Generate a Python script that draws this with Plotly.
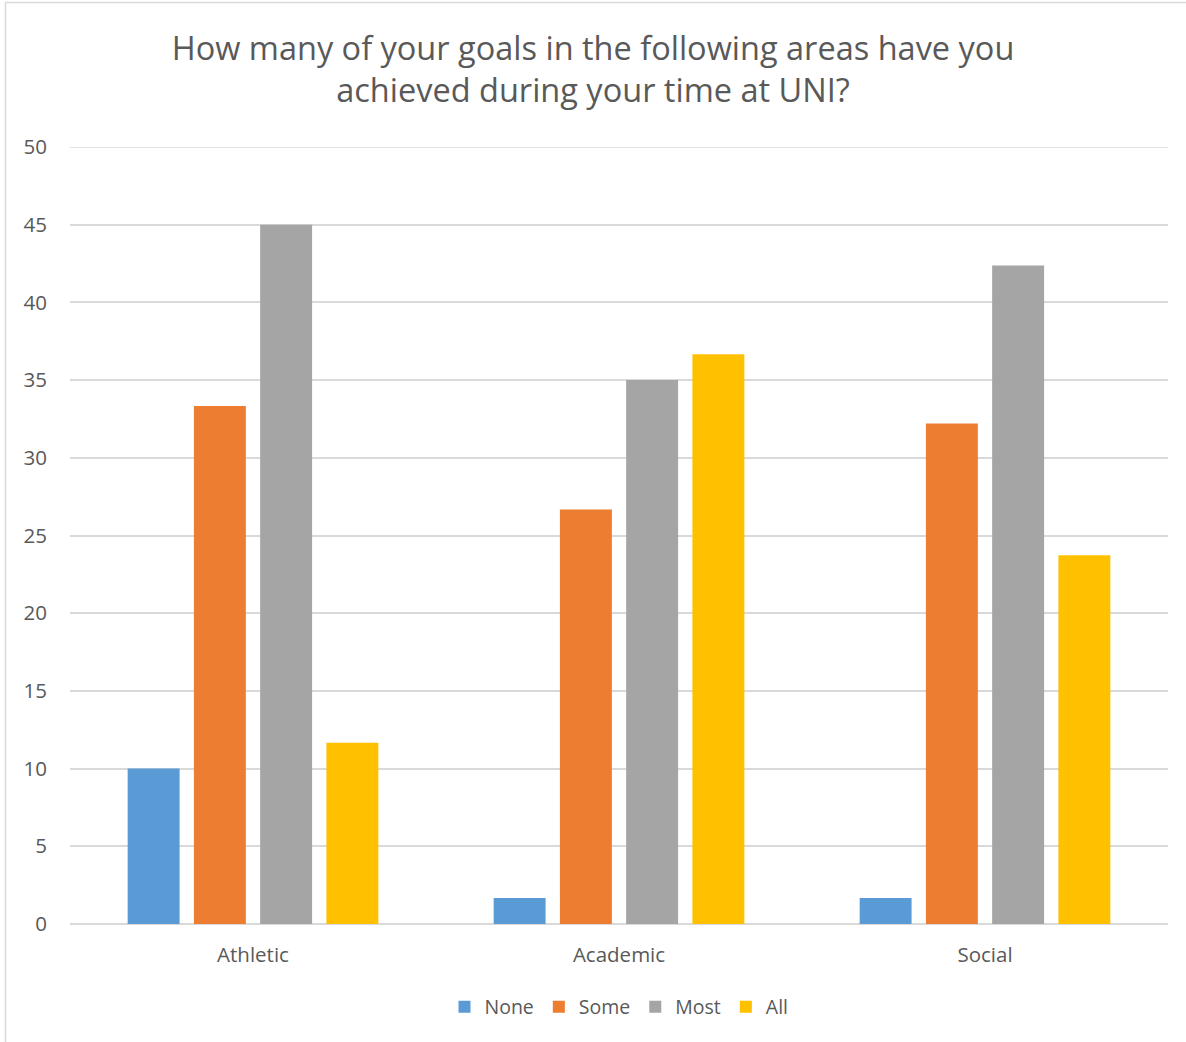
import plotly.graph_objects as go

categories = ["Athletic", "Academic", "Social"]
series_names = ["None", "Some", "Most", "All"]
none_vals = [10.0, 1.67, 1.67]
some_vals = [33.33, 26.67, 32.2]
most_vals = [45.0, 35.0, 42.37]
all_vals = [11.67, 36.67, 23.73]
colors = ["#5B9BD5", "#ED7D31", "#A5A5A5", "#FFC000"]
y_ticks = [0, 5, 10, 15, 20, 25, 30, 35, 40, 45, 50]

W, H = 1186, 1042
ml, mr, mt, mb = 70, 18, 147, 118
pw, ph = W - ml - mr, H - mt - mb

def px_x(x):
    return (x - ml) / pw

def px_y(y):
    return (H - mb - y) / ph

fig = go.Figure()
for name, vals, c in zip(series_names, [none_vals, some_vals, most_vals, all_vals], colors):
    fig.add_trace(go.Bar(name=name, x=categories, y=vals, marker=dict(color=c, line=dict(width=0))))

font_family = "Open Sans, Liberation Sans, sans-serif"
grey = "#595959"
grid = "#D9D9D9"
fig.update_layout(
    width=W, height=H,
    margin=dict(l=ml, r=mr, t=mt, b=mb),
    paper_bgcolor="white", plot_bgcolor="white",
    barmode="group", bargap=0.276, bargroupgap=0.216,
    font=dict(family=font_family, color=grey, size=20),
    title=dict(
        text="How many of your goals in the following areas have you<br>achieved during your time at UNI?",
        x=0.5, xanchor="center", y=1 - 60 / H, yanchor="middle",
        font=dict(size=32.5, color=grey, family=font_family),
    ),
    xaxis=dict(showgrid=False, showline=False, ticks="", ticklabelstandoff=16,
               tickfont=dict(size=20.5, color=grey)),
    yaxis=dict(range=[0, 50], tickvals=y_ticks, showgrid=True, gridcolor=grid, gridwidth=1.5,
               zeroline=True, zerolinecolor=grid, zerolinewidth=1.5, showline=False, ticks="",
               ticklabelstandoff=22, tickfont=dict(size=20.5, color=grey)),
    legend=dict(orientation="h", x=0.5, xanchor="center", y=px_y(1007), yanchor="middle",
                font=dict(size=19.5, color=grey), traceorder="normal", itemwidth=30),
    shapes=[
        dict(type="line", xref="paper", yref="y", x0=0, x1=1, y0=y_ticks[-1], y1=y_ticks[-1],
             line=dict(color=grid, width=1.5), layer="below"),
        dict(type="line", xref="paper", yref="paper", x0=px_x(5.5), x1=px_x(5.5), y0=px_y(1042), y1=px_y(2.5),
             line=dict(color=grid, width=1.5), layer="below"),
        dict(type="line", xref="paper", yref="paper", x0=px_x(5.5), x1=px_x(1186), y0=px_y(2.5), y1=px_y(2.5),
             line=dict(color=grid, width=1.5), layer="below"),
    ],
)

fig.write_html("out.html", config={"displayModeBar": False},
               post_script="document.body.style.margin='0';document.body.style.overflow='hidden';")
